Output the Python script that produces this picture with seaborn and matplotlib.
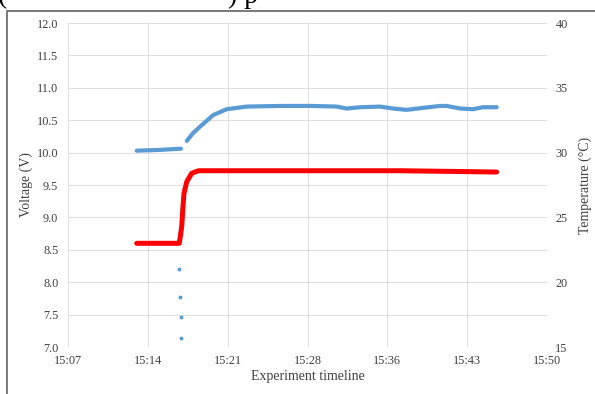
import numpy as np
import pandas as pd
import matplotlib
matplotlib.use("Agg")
import matplotlib.pyplot as plt
from matplotlib.patches import Rectangle
import seaborn as sns

# ---- data (time in minutes after 15:00) ----
volt_pre_t = [13.17, 15.0, 17.14]
volt_pre_v = [10.03, 10.04, 10.06]

volt_drop_t = [17.00, 17.05, 17.10, 17.15]
volt_drop_v = [8.20, 7.77, 7.46, 7.14]

volt_t = [17.66, 18.22, 18.85, 20.04, 21.25, 23.04, 26.03, 28.99, 31.12, 32.02,
          33.21, 35.00, 36.17, 37.40, 38.87, 40.39, 40.99, 42.19, 43.36, 44.25, 45.48]
volt_v = [10.18, 10.30, 10.40, 10.58, 10.67, 10.71, 10.72, 10.72, 10.71, 10.68,
          10.70, 10.71, 10.68, 10.66, 10.69, 10.72, 10.72, 10.68, 10.67, 10.70, 10.70]

temp_t = [13.17, 16.99, 17.21, 17.30, 17.41, 17.66, 18.10, 18.70, 27.83, 36.80, 41.29, 45.48]
temp_c = [23.0, 23.0, 24.3, 25.55, 26.85, 27.75, 28.4, 28.6, 28.6, 28.6, 28.55, 28.5]

x_ticks_min = list(np.linspace(7, 50, 7))
x_tick_labels = ["15:07", "15:14", "15:21", "15:28", "15:36", "15:43", "15:50"]
v_ticks = [7.0, 7.5, 8.0, 8.5, 9.0, 9.5, 10.0, 10.5, 11.0, 11.5, 12.0]
t_ticks = [15, 20, 25, 30, 35, 40]

BLUE = "#5B9BD5"
RED = "#FF0000"
TXT = "#404040"
GRID = "#DDDDDD"

sns.set_theme(style="white")
plt.rcParams["font.family"] = ["Liberation Serif", "DejaVu Serif"]

fig = plt.figure(figsize=(5.95, 3.94), dpi=100)
ax = fig.add_axes([68/595, 1-347/394, (547-68)/595, (347-23)/394])
ax2 = ax.twinx()

df_pre = pd.DataFrame({"t": volt_pre_t, "v": volt_pre_v})
df_drop = pd.DataFrame({"t": volt_drop_t, "v": volt_drop_v})
df_v = pd.DataFrame({"t": volt_t, "v": volt_v})
df_t = pd.DataFrame({"t": temp_t, "c": temp_c})

sns.lineplot(data=df_pre, x="t", y="v", ax=ax, color=BLUE, lw=3.0, sort=False,
             estimator=None, solid_capstyle="round")
sns.lineplot(data=df_v, x="t", y="v", ax=ax, color=BLUE, lw=3.0, sort=False,
             estimator=None, solid_capstyle="round")
sns.scatterplot(data=df_drop, x="t", y="v", ax=ax, color=BLUE, s=8, linewidth=0)
sns.lineplot(data=df_t, x="t", y="c", ax=ax2, color=RED, lw=3.6, sort=False,
             estimator=None, solid_capstyle="round")

ax.set_xlim(7, 50)
ax.set_ylim(7, 12)
ax2.set_ylim(15, 40)
ax.set_xticks(x_ticks_min)
ax.set_xticklabels(x_tick_labels)
ax.set_yticks(v_ticks)
ax.set_yticklabels([f"{v:.1f}" for v in v_ticks])
ax2.set_yticks(t_ticks)
ax2.set_yticklabels([str(t) for t in t_ticks])

ax.grid(True, color=GRID, lw=0.7)
ax2.grid(False)
ax.set_axisbelow(True)
for a in (ax, ax2):
    for s in a.spines.values():
        s.set_visible(False)
    a.tick_params(length=0, labelsize=8.8, labelcolor=TXT)
ax.tick_params(axis="y", pad=7)
ax.tick_params(axis="x", pad=6)
ax2.tick_params(axis="y", pad=6)

ax.set_xlabel("Experiment timeline", fontsize=10, color=TXT, labelpad=2)
ax.set_ylabel("Voltage (V)", fontsize=10, color=TXT, labelpad=3)
ax2.set_ylabel("Temperature (°C)", fontsize=10, color=TXT, labelpad=8)

# document frame and cropped caption text
fig.add_artist(Rectangle((7/595, -0.1), 1.0, 1.1 - 10.7/394, transform=fig.transFigure,
                         fill=False, edgecolor="#6E6E6E", lw=1.3, clip_on=False))
fig.text(-0.004, 1 - 3/394, "(", fontsize=20, color="black", ha="left", va="baseline",
         family=["Liberation Serif"])
fig.text(228/595, 1 - 3/394, ") p", fontsize=20, color="black", ha="left", va="baseline",
         family=["Liberation Serif"])

fig.savefig("out.png", dpi=100)
